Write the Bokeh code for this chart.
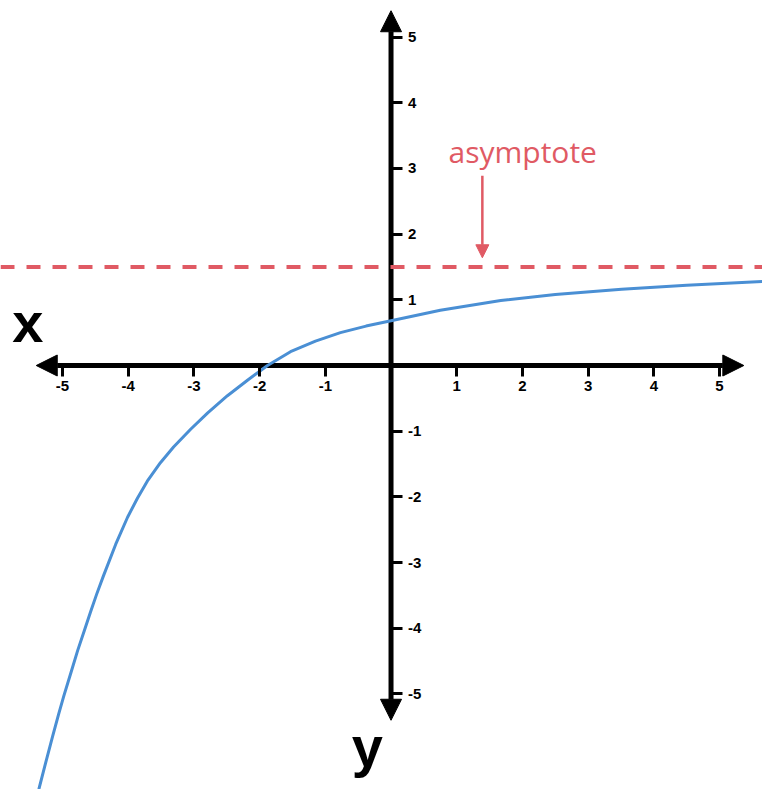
from bokeh.plotting import figure
from bokeh.models import Range1d, LinearAxis, FixedTicker, Arrow, NormalHead, Span
from bokeh.core.properties import value
from bokeh.embed import file_html
from bokeh.resources import INLINE

# ---- data ----
curve_x = [-5.36, -5.26, -5.15, -5.06, -4.98, -4.87, -4.77, -4.67, -4.57, -4.48,
           -4.38, -4.19, -4.01, -3.86, -3.71, -3.51, -3.31, -3.05, -2.79, -2.49,
           -2.18, -1.88, -1.53, -1.15, -0.77, -0.38, 0.0, 0.75, 1.67, 2.5,
           3.51, 4.5, 5.66]
curve_y = [-6.45, -6.06, -5.64, -5.31, -5.03, -4.67, -4.34, -4.04, -3.74, -3.48,
           -3.21, -2.72, -2.31, -2.02, -1.76, -1.48, -1.24, -0.97, -0.72, -0.46,
           -0.22, 0.0, 0.21, 0.37, 0.50, 0.60, 0.68, 0.84, 0.99, 1.08,
           1.16, 1.22, 1.28]
asymptote_y = 1.5
x_ticks = [-5, -4, -3, -2, -1, 1, 2, 3, 4, 5]
y_ticks = [-5, -4, -3, -2, -1, 1, 2, 3, 4, 5]
x_tick_labels = ["-5", "-4", "-3", "-2", "-1", "1", "2", "3", "4", "5"]
y_tick_labels = ["-5", "-4", "-3", "-2", "-1", "1", "2", "3", "4", "5"]
annotation_text = "asymptote"

RED = "#e05a64"
BLUE = "#4a8fd4"

p = figure(width=762, height=789, output_backend="svg", toolbar_location=None,
           x_range=Range1d(-5.944, 5.654), y_range=Range1d(-6.454, 5.556),
           x_axis_location=None, y_axis_location=None, min_border=0)
p.outline_line_color = None
p.xgrid.visible = False
p.ygrid.visible = False
p.background_fill_color = "white"

def head():
    return NormalHead(size=21, fill_color="black", line_color="black")

# axis arrows
p.add_layout(Arrow(start=head(), end=head(), x_start=-5.40, y_start=0, x_end=5.37, y_end=0,
                   line_width=5, line_color="black", level="underlay"))
p.add_layout(Arrow(start=head(), end=head(), x_start=0, y_start=-5.40, x_end=0, y_end=5.40,
                   line_width=5, line_color="black", level="underlay"))

common = dict(axis_line_color=None, major_tick_in=0, major_tick_out=11,
              major_tick_line_width=3, major_tick_line_color="black",
              minor_tick_line_color=None,
              major_label_text_font="Liberation Sans",
              major_label_text_font_style="bold",
              major_label_text_font_size="15px",
              major_label_text_color="black")

xaxis = LinearAxis(fixed_location=0, ticker=FixedTicker(ticks=x_ticks),
                   major_label_overrides={t: s for t, s in zip(x_ticks, x_tick_labels)},
                   major_label_standoff=4, **common)
p.add_layout(xaxis, "below")
yaxis = LinearAxis(fixed_location=0, ticker=FixedTicker(ticks=y_ticks),
                   major_label_overrides={t: s for t, s in zip(y_ticks, y_tick_labels)},
                   major_label_standoff=6, **common)
p.add_layout(yaxis, "right")

# asymptote
p.add_layout(Span(location=asymptote_y, dimension="width", line_color=RED,
                  line_width=4, line_dash="14 12", level="underlay"))

# curve
p.line(curve_x, curve_y, line_color=BLUE, line_width=3, line_join="round")

# annotation
p.text(x=[0.875], y=[3.26], text=[annotation_text], text_font=value("Open Sans"),
       text_font_size="30px", text_color=RED, text_align="left",
       text_baseline="alphabetic")
p.add_layout(Arrow(end=NormalHead(size=13, fill_color=RED, line_color=RED),
                   x_start=1.39, y_start=2.89, x_end=1.39, y_end=1.64,
                   line_width=2.5, line_color=RED))

# axis names
p.text(x=[-5.53], y=[0.65], text=["x"], text_font=value("Liberation Sans"),
       text_font_style="bold", text_font_size="56px", text_color="black",
       text_align="center", text_baseline="alphabetic")
p.text(x=[-0.36], y=[-5.80], text=["y"], text_font=value("Liberation Sans"),
       text_font_style="bold", text_font_size="56px", text_color="black",
       text_align="center", text_baseline="alphabetic")

open("out.html", "w").write(file_html(p, INLINE))
